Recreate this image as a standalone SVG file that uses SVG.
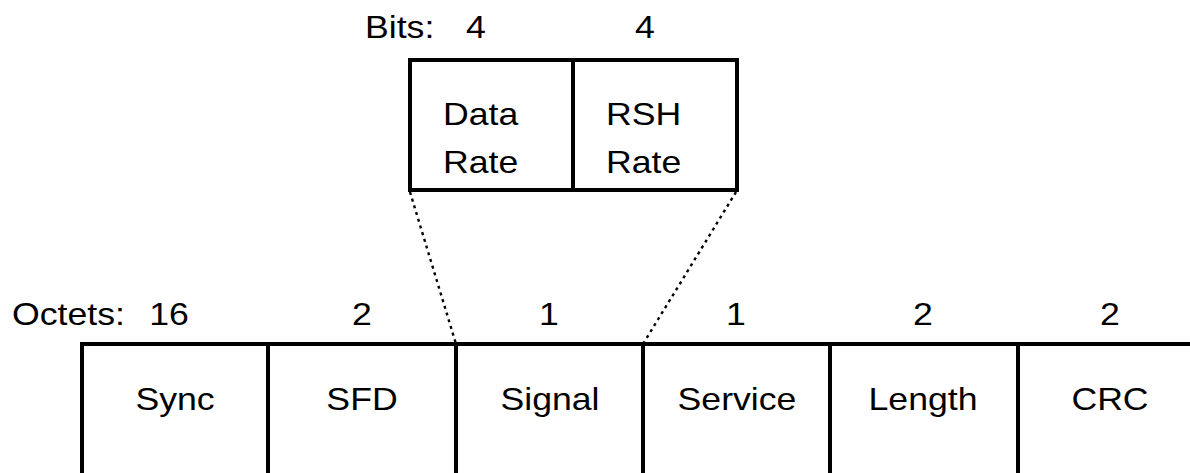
<svg xmlns="http://www.w3.org/2000/svg" width="1190" height="473" viewBox="0 0 1190 473">
<style>
  .box { fill: #fff; stroke: #000; stroke-width: 4; }
  .div { stroke: #000; stroke-width: 4; fill: none; }
  .dot { stroke: #000; stroke-width: 2.4; stroke-dasharray: 3 4; fill: none; }
  text { font-family: "Liberation Sans", Arial, sans-serif; font-size: 31px; fill: #000; }
  .m { text-anchor: middle; }
</style>
<rect x="0" y="0" width="1190" height="473" fill="#fff"/>
<g id="connectors">
  <line class="dot" x1="410" y1="192" x2="456" y2="344"/>
  <line class="dot" x1="736" y1="192" x2="643" y2="344"/>
</g>
<g id="bits-header">
  <text transform="translate(365,38) scale(1.15,1)">Bits:</text>
  <text class="m" transform="translate(476,38) scale(1.15,1)">4</text>
  <text class="m" transform="translate(645,38) scale(1.15,1)">4</text>
</g>
<g id="data-rate">
  <rect class="box" x="410" y="60" width="163" height="130"/>
  <text transform="translate(443,125) scale(1.15,1)">Data</text>
  <text transform="translate(443,173) scale(1.15,1)">Rate</text>
</g>
<g id="rsh-rate">
  <rect class="box" x="573" y="60" width="164" height="130"/>
  <text transform="translate(606,125) scale(1.15,1)">RSH</text>
  <text transform="translate(606,173) scale(1.15,1)">Rate</text>
</g>
<g id="octets-header">
  <text transform="translate(12,325) scale(1.15,1)">Octets:</text>
  <text class="m" transform="translate(169,325) scale(1.15,1)">16</text>
  <text class="m" transform="translate(362,325) scale(1.15,1)">2</text>
  <text class="m" transform="translate(549,325) scale(1.15,1)">1</text>
  <text class="m" transform="translate(736,325) scale(1.15,1)">1</text>
  <text class="m" transform="translate(923,325) scale(1.15,1)">2</text>
  <text class="m" transform="translate(1110,325) scale(1.15,1)">2</text>
</g>
<g id="frame">
  <path class="div" d="M82,480 V344 H1195"/>
</g>
<g id="sync">
  <text class="m" transform="translate(175,410) scale(1.15,1)">Sync</text>
</g>
<g id="sfd">
  <line class="div" x1="268" y1="344" x2="268" y2="480"/>
  <text class="m" transform="translate(362,410) scale(1.15,1)">SFD</text>
</g>
<g id="signal">
  <line class="div" x1="456" y1="344" x2="456" y2="480"/>
  <text class="m" transform="translate(550,410) scale(1.15,1)">Signal</text>
</g>
<g id="service">
  <line class="div" x1="643" y1="344" x2="643" y2="480"/>
  <text class="m" transform="translate(737,410) scale(1.15,1)">Service</text>
</g>
<g id="length">
  <line class="div" x1="830" y1="344" x2="830" y2="480"/>
  <text class="m" transform="translate(923,410) scale(1.15,1)">Length</text>
</g>
<g id="crc">
  <line class="div" x1="1018" y1="344" x2="1018" y2="480"/>
  <text class="m" transform="translate(1110,410) scale(1.15,1)">CRC</text>
</g>
</svg>
